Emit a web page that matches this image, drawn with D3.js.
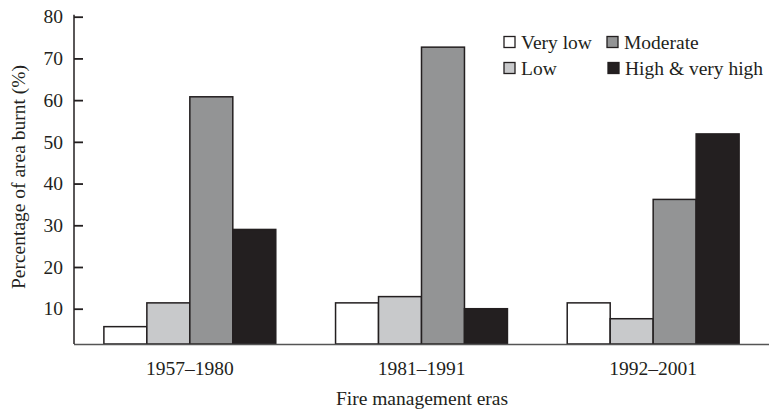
<!DOCTYPE html>
<html>
<head>
<meta charset="utf-8">
<script src="https://cdn.jsdelivr.net/npm/d3@7"></script>
<style>
  body { margin: 0; background: #fff; }
  text { font-family: "Liberation Serif", "DejaVu Serif", serif; fill: #231f20; }
</style>
</head>
<body>
<div id="chart"></div>
<script>
// data
let eras = ["1957–1980", "1981–1991", "1992–2001"];
let classes = ["Very low", "Low", "Moderate", "High & very high"];
let veryLow = [5.7, 11.4, 11.4];
let low = [11.4, 12.9, 7.6];
let moderate = [60.8, 72.7, 36.2];
let high = [29.0, 10.0, 51.9];
let yTicks = [10, 20, 30, 40, 50, 60, 70, 80];
let colors = ["#ffffff", "#c8c9cb", "#939495", "#231f20"];

let width = 769, height = 410;
let series = [veryLow, low, moderate, high];
let fs = 19.5;

let svg = d3.select("#chart")
  .append("svg")
  .attr("width", width)
  .attr("height", height);

// scales
let x0 = d3.scaleBand()
  .domain(eras)
  .range([74, 769])
  .paddingInner(0.258)
  .paddingOuter(0.129);

let x1 = d3.scaleBand()
  .domain(classes)
  .range([0, x0.bandwidth()]);

let y = d3.scaleLinear()
  .domain([1.54, 80])
  .range([344, 16.7]);

// bars
let groups = svg.selectAll(".era")
  .data(eras)
  .enter()
  .append("g")
  .attr("class", "era")
  .attr("transform", d => `translate(${x0(d)},0)`);

groups.selectAll("rect")
  .data((d, i) => classes.map((c, k) => ({ cls: c, k: k, value: series[k][i] })))
  .enter()
  .append("rect")
  .attr("x", d => x1(d.cls))
  .attr("y", d => y(d.value))
  .attr("width", x1.bandwidth())
  .attr("height", d => y.range()[0] - y(d.value))
  .attr("fill", d => colors[d.k])
  .attr("stroke", "#231f20")
  .attr("stroke-width", 1.5);

// x axis line
svg.append("line")
  .attr("x1", 74).attr("x2", 769)
  .attr("y1", 344.5).attr("y2", 344.5)
  .attr("stroke", "#555")
  .attr("stroke-width", 1.5);

// y axis, ticks pointing into the plot
let yAxis = d3.axisLeft(y)
  .tickValues(yTicks)
  .tickSizeInner(-9)
  .tickSizeOuter(0)
  .tickPadding(11);

let gy = svg.append("g")
  .attr("transform", "translate(74,0)")
  .call(yAxis);
gy.select(".domain")
  .attr("d", `M0,${y(80) - 2}V${y.range()[0]}`)
  .attr("stroke", "#231f20")
  .attr("stroke-width", 1.5);
gy.selectAll(".tick line").attr("stroke", "#231f20").attr("stroke-width", 1.8);
gy.selectAll(".tick text")
  .attr("font-size", fs)
  .attr("font-family", "Liberation Serif")
  .attr("fill", "#231f20");

// x tick labels
svg.selectAll(".xlab")
  .data(eras)
  .enter()
  .append("text")
  .attr("class", "xlab")
  .attr("x", d => x0(d) + x0.bandwidth() / 2)
  .attr("y", 375)
  .attr("text-anchor", "middle")
  .attr("font-size", fs)
  .text(d => d);

// axis titles
svg.append("text")
  .attr("x", 422)
  .attr("y", 405)
  .attr("text-anchor", "middle")
  .attr("font-size", fs)
  .text("Fire management eras");

svg.append("text")
  .attr("transform", "translate(25,177) rotate(-90)")
  .attr("text-anchor", "middle")
  .attr("font-size", fs)
  .text("Percentage of area burnt (%)");

// legend
let legendPos = [[504, 42], [504, 68], [607, 42], [608, 68]];
let legend = svg.selectAll(".legend")
  .data(classes)
  .enter()
  .append("g")
  .attr("class", "legend")
  .attr("transform", (d, i) => `translate(${legendPos[i][0]},${legendPos[i][1]})`);

legend.append("rect")
  .attr("x", 0).attr("y", -5.5)
  .attr("width", 11).attr("height", 11)
  .attr("fill", (d, i) => colors[i])
  .attr("stroke", "#231f20")
  .attr("stroke-width", 1.3);

legend.append("text")
  .attr("x", 17)
  .attr("y", 6.5)
  .attr("font-size", fs)
  .text(d => d);
</script>
</body>
</html>
